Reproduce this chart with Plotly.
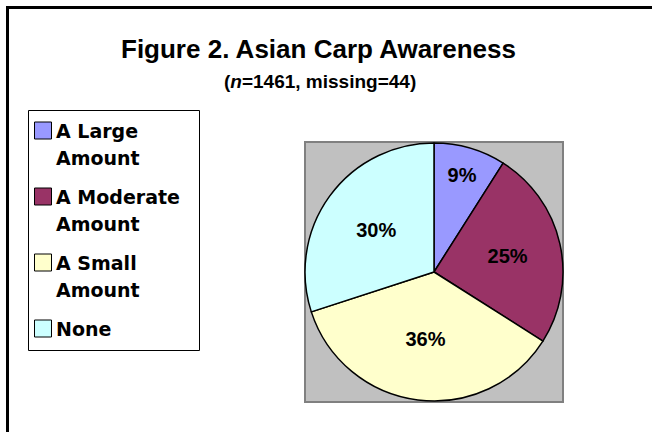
import plotly.graph_objects as go

W, H = 652, 432

# ---- data ----
categories = ["A Large\nAmount", "A Moderate\nAmount", "A Small\nAmount", "None"]
values = [9, 25, 36, 30]
colors = ["#9999FF", "#993366", "#FFFFCC", "#CCFFFF"]
title_text = "Figure 2. Asian Carp Awareness"
subtitle_text = "(<i>n</i>=1461, missing=44)"

FONT = "Liberation Sans, Arial, sans-serif"
LEG_FONT = "DejaVu Sans, Liberation Sans, sans-serif"


def px(x):
    return x / W


def py(y):
    return 1 - y / H


fig = go.Figure()

# pie plot area (centre 434,272 radius 129)
cx, cy, r = 434, 272, 129
fig.add_trace(go.Pie(
    labels=[c.replace("\n", " ") for c in categories],
    values=values,
    marker=dict(colors=colors, line=dict(color="black", width=1.5)),
    sort=False,
    direction="clockwise",
    rotation=0,
    texttemplate="%{percent:.0%}",
    textposition="inside",
    insidetextorientation="horizontal",
    textfont=dict(family=FONT, size=20, color="black", weight="bold"),
    domain=dict(x=[px(cx - r), px(cx + r)], y=[py(cy + r), py(cy - r)]),
    showlegend=False,
    hoverinfo="label+percent",
))

shapes = []
annotations = []

# outer frame (thick black, runs off the right and bottom)
shapes.append(dict(type="line", xref="paper", yref="paper",
                   x0=px(7.5), x1=px(7.5), y0=py(6), y1=py(H + 5),
                   line=dict(color="black", width=3)))
shapes.append(dict(type="line", xref="paper", yref="paper",
                   x0=px(6), x1=px(W + 5), y0=py(7.5), y1=py(7.5),
                   line=dict(color="black", width=3)))

# grey plot area
shapes.append(dict(type="rect", xref="paper", yref="paper", layer="below",
                   x0=px(305), x1=px(563), y0=py(402), y1=py(142),
                   fillcolor="#C0C0C0", line=dict(color="#808080", width=2)))

# legend box
shapes.append(dict(type="rect", xref="paper", yref="paper",
                   x0=px(28.5), x1=px(199.5), y0=py(350.5), y1=py(110.5),
                   fillcolor="white", line=dict(color="black", width=1)))

# legend entries
item_top = 122
item_step = 66
line_step = 27
sym = 17
for i, (lab, col) in enumerate(zip(categories, colors)):
    top = item_top + i * item_step
    shapes.append(dict(type="rect", xref="paper", yref="paper",
                       x0=px(34.5), x1=px(34.5 + sym),
                       y0=py(top + sym), y1=py(top),
                       fillcolor=col, line=dict(color="black", width=1)))
    for j, ln in enumerate(lab.split("\n")):
        annotations.append(dict(
            text=ln, xref="paper", yref="paper",
            x=px(54), y=py(top + 9 + j * line_step),
            xanchor="left", yanchor="middle", showarrow=False,
            font=dict(family=LEG_FONT, size=19, color="black", weight="bold"),
        ))

# titles
annotations.append(dict(text=title_text, xref="paper", yref="paper",
                        x=px(318), y=py(49), xanchor="center", yanchor="middle",
                        showarrow=False,
                        font=dict(family=FONT, size=26, color="black", weight="bold")))
annotations.append(dict(text=subtitle_text, xref="paper", yref="paper",
                        x=px(320), y=py(81), xanchor="center", yanchor="middle",
                        showarrow=False,
                        font=dict(family=FONT, size=19, color="black", weight="bold")))

fig.update_layout(
    width=W, height=H,
    margin=dict(l=0, r=0, t=0, b=0),
    paper_bgcolor="white",
    plot_bgcolor="white",
    shapes=shapes,
    annotations=annotations,
    showlegend=False,
)

fig.write_html("out.html",
               config={"displayModeBar": False},
               post_script="document.body.style.margin='0';"
                           "document.body.style.overflow='hidden';")
